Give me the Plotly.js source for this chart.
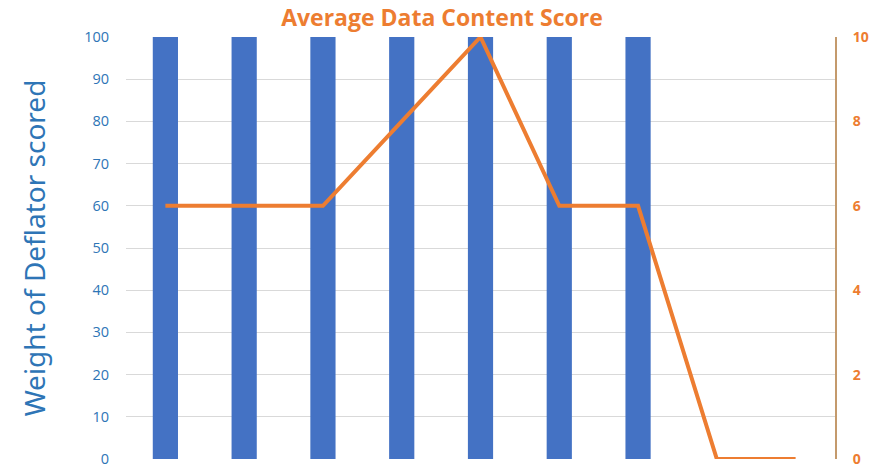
<!DOCTYPE html>
<html>
<head>
<meta charset="utf-8">
<script src="https://cdn.plot.ly/plotly-3.0.1.min.js"></script>
<style>html,body{margin:0;padding:0;background:#fff;}#chart{width:870px;height:469px;}</style>
</head>
<body>
<div id="chart"></div>
<script>
const categories = ["1", "2", "3", "4", "5", "6", "7", "8", "9"];
const weightValues = [100, 100, 100, 100, 100, 100, 100, null, null];
const scoreValues = [6, 6, 6, 8, 10, 6, 6, 0, 0];
const leftTicks = [0, 10, 20, 30, 40, 50, 60, 70, 80, 90, 100];
const rightTicks = [0, 2, 4, 6, 8, 10];

const traces = [
  {
    type: "bar",
    x: categories,
    y: weightValues,
    marker: {color: "#4472C4"},
    width: 0.32,
    yaxis: "y",
    hoverinfo: "skip"
  },
  {
    type: "scatter",
    mode: "lines",
    x: categories,
    y: scoreValues,
    line: {color: "#ED7D31", width: 4},
    yaxis: "y2",
    hoverinfo: "skip"
  }
];

const layout = {
  width: 870,
  height: 469,
  margin: {l: 126, r: 35, t: 37, b: 10},
  paper_bgcolor: "#ffffff",
  plot_bgcolor: "#ffffff",
  showlegend: false,
  title: {
    text: "<b>Average Data Content Score</b>",
    font: {family: "Open Sans", size: 23, color: "#ED7D31"},
    x: 0.508, xref: "container", xanchor: "center",
    y: 0.962, yref: "container", yanchor: "middle"
  },
  xaxis: {
    type: "category",
    showticklabels: false,
    showgrid: false,
    zeroline: false,
    showline: false,
    ticks: ""
  },
  yaxis: {
    range: [0, 100],
    tickvals: leftTicks,
    ticktext: leftTicks.map(String),
    tickfont: {family: "Open Sans", size: 14.5, color: "#2E75B6"},
    ticklabelstandoff: 16,
    ticklabeloverflow: "allow",
    showgrid: true,
    gridcolor: "#D9D9D9",
    gridwidth: 1,
    zeroline: false,
    showline: false,
    ticks: "",
    title: {
      text: "Weight of Deflator scored",
      font: {family: "Noto Sans", size: 28, color: "#2E75B6"},
      standoff: 30
    }
  },
  yaxis2: {
    overlaying: "y",
    side: "right",
    range: [0, 10],
    tickvals: rightTicks,
    ticktext: rightTicks.map(String),
    tickfont: {family: "Open Sans", size: 14, color: "#ED7D31", weight: "bold"},
    ticklabelstandoff: 13,
    ticklabeloverflow: "allow",
    showgrid: false,
    zeroline: false,
    showline: true,
    linecolor: "#C49A6C",
    linewidth: 2,
    ticks: ""
  },
  bargap: 0.68
};

Plotly.newPlot("chart", traces, layout, {displayModeBar: false, staticPlot: true});
</script>
</body>
</html>
